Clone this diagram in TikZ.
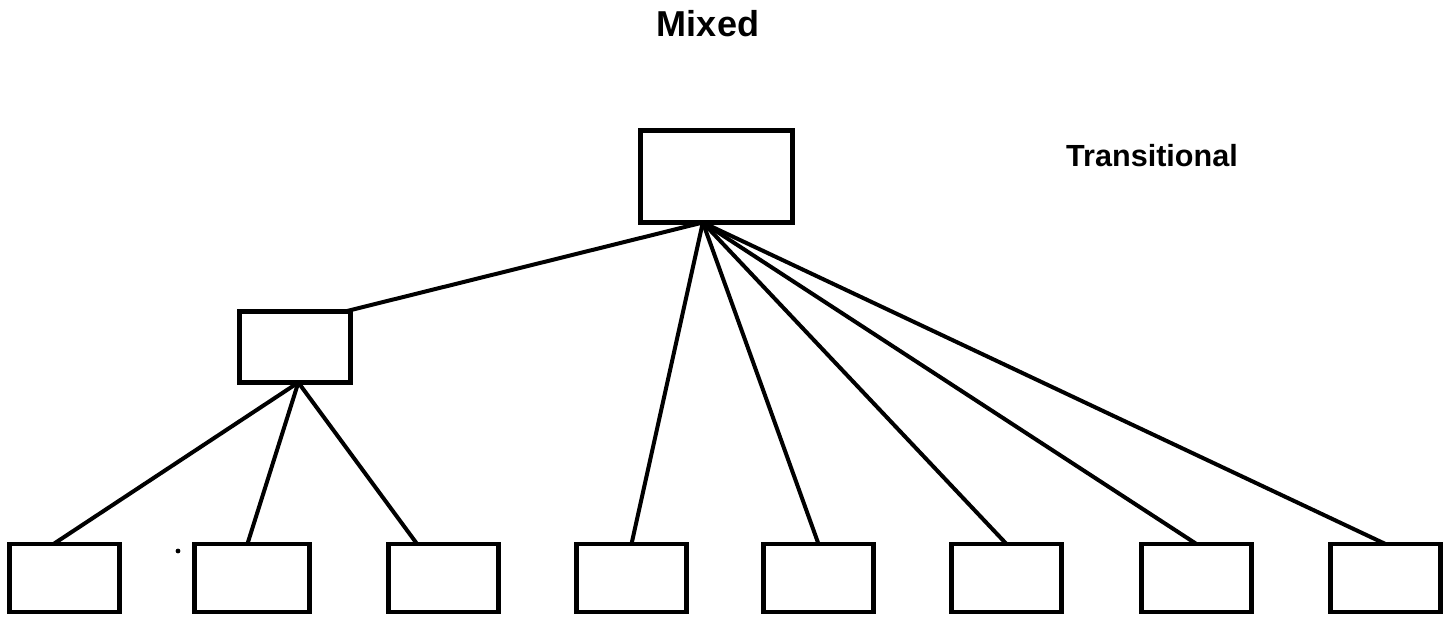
\documentclass[tikz,border=0pt]{standalone}
\usepackage{fontspec}
\setmainfont{Liberation Sans}
\usepackage{xcolor}
\usetikzlibrary{calc}

\tikzset{
	box/.style={draw, line width=0.95mm, inner sep=0pt, outer sep=0pt},
	root/.style={box, minimum width=3.04cm, minimum height=1.84cm},
	mid/.style={box, minimum width=2.22cm, minimum height=1.42cm},
	leaf/.style={box, minimum width=2.2cm, minimum height=1.36cm},
	link/.style={line width=0.8mm, line cap=round},
}

\begin{document}
\begin{tikzpicture}[x=0.02cm, y=-0.02cm]
	\useasboundingbox (0,0) rectangle (1450,619);

	% titles
	\node[anchor=base] (mixed) at (708,36) {\fontsize{20.5pt}{0}\selectfont\bfseries Mixed};
	\node[anchor=base] (trans) at (1152,166) {\fontsize{17.4pt}{0}\selectfont\bfseries Transitional};

	% boxes
	\node[root] (top) at (716.5,176.5) {};
	\node[mid] (m) at (295,347) {};
	\node[leaf] (b1) at (64.5,578) {};
	\node[leaf, minimum width=2.3cm] (b2) at (252,578) {};
	\node[leaf] (b3) at (443.5,578) {};
	\node[leaf] (b4) at (631.5,578) {};
	\node[leaf] (b5) at (818.5,578) {};
	\node[leaf] (b6) at (1006.5,578) {};
	\node[leaf] (b7) at (1196.5,578) {};
	\node[leaf] (b8) at (1385.5,578) {};
\fill (178,551) circle (2.4);

	% hubs
	\coordinate (hub) at ($(top.south west)!0.41!(top.south east)$);
	\coordinate (mhub) at ($(m.south west)!0.53!(m.south east)$);

	% links
\draw[link] (hub) -- ($(m.north west)!0.95!(m.north east)$);
\foreach \b in {b4,b5,b6,b7,b8}
	\draw[link] (hub) -- (\b.north);
\draw[link] (mhub) -- ($(b1.north west)!0.40!(b1.north east)$);
\draw[link] (mhub) -- ($(b2.north west)!0.46!(b2.north east)$);
\draw[link] (mhub) -- ($(b3.north west)!0.26!(b3.north east)$);

\end{tikzpicture}
\end{document}
